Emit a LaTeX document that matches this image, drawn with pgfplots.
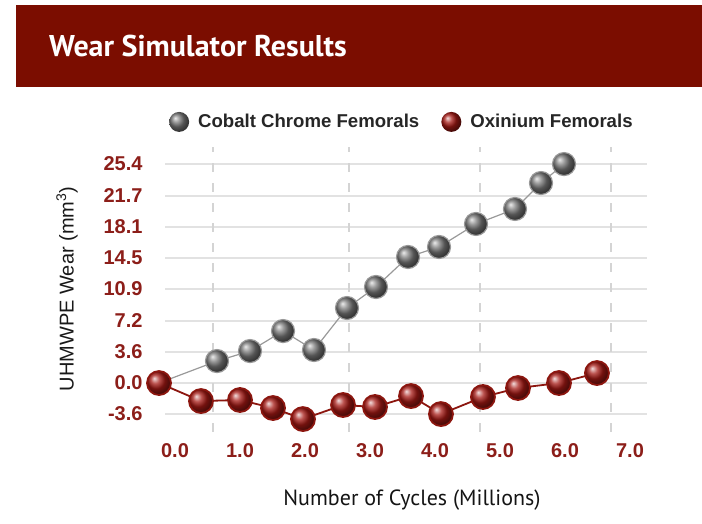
\documentclass[border=0pt]{standalone}
\usepackage{pgfplots}
\pgfplotsset{compat=1.18}
\usepackage{fontspec}
\setmainfont{Liberation Sans}
\newfontfamily\ptsans{PT Sans}
\definecolor{barred}{RGB}{123,13,0}
\definecolor{tickred}{RGB}{140,30,25}
\definecolor{linered}{RGB}{140,22,15}
\definecolor{ballred}{RGB}{165,25,20}
\definecolor{ballgray}{RGB}{120,120,120}
\definecolor{gridgray}{RGB}{226,226,226}
\definecolor{dashgray}{RGB}{212,212,212}
\begin{document}
\begin{tikzpicture}[x=1pt,y=1pt]
\path[use as bounding box] (0,0) rectangle (702,524);
\fill[barred] (16,437) rectangle (702,519);
\node[anchor=base west, inner sep=0pt, text=white] at (49,467) {\ptsans\bfseries\fontsize{30}{36}\selectfont Wear Simulator Results};
\begin{axis}[
  at={(165pt,92pt)}, anchor=south west,
  scale only axis, width=482pt, height=285pt,
  xmin=-0.154, xmax=7.262, ymin=-5.68, ymax=27.38,
  clip=false,
  axis line style={draw=none},
  tick style={draw=none},
  xtick={0,1,2,3,4,5,6,7},
  xticklabels={0.0,1.0,2.0,3.0,4.0,5.0,6.0,7.0},
  ytick={-3.6,0,3.6,7.2,10.9,14.5,18.1,21.7,25.4},
  yticklabels={-3.6,0.0,3.6,7.2,10.9,14.5,18.1,21.7,25.4},
  ymajorgrids,
  major grid style={draw=gridgray, line width=2pt},
  extra x ticks={0.585,2.677,4.692,6.708},
  extra x tick labels={},
  extra x tick style={grid=major, major grid style={draw=dashgray, line width=1.2pt, dash pattern=on 9pt off 11pt}},
  ticklabel style={font=\bfseries\fontsize{20}{24}\selectfont, text=tickred},
  xticklabel style={yshift=-8pt},
  yticklabel style={xshift=-19pt},
  xlabel={Number of Cycles (Millions)},
  ylabel={UHMWPE Wear (mm\textsuperscript{3})},
  xlabel style={at={(axis description cs:0.5124,-0.2386)}, anchor=center, font=\ptsans\fontsize{22}{26}\selectfont, text=black!92},
  ylabel style={at={(axis description cs:-0.2033,0.502)}, anchor=center, font=\fontsize{20}{24}\selectfont, text=black!90},
  legend columns=2,
  legend style={at={(0.002,1.088)}, anchor=west, draw=none, fill=none,
    font=\bfseries\fontsize{18.6}{22}\selectfont, text=black!85,
    /tikz/every even column/.append style={column sep=20pt}},
]
\addplot[draw=black!40, line width=1.2pt, mark=ball, mark size=11.5pt, mark options={ball color=ballgray},
  legend image code/.code={\path[draw=none] (0pt,0pt) -- (27pt,0pt); \shade[ball color=ballgray, draw=none] (10pt,0pt) circle (10pt);}]
  coordinates {(-0.246,0) (0.646,2.55) (1.154,3.71) (1.662,6.03) (2.138,3.83) (2.646,8.70) (3.092,11.14) (3.585,14.62) (4.062,15.78) (4.631,18.45) (5.231,20.19) (5.631,23.2) (5.985,25.4)};
\addlegendentry{Cobalt Chrome Femorals}
\addplot[draw=linered, line width=1.8pt, mark=ball, mark size=12pt, mark options={ball color=ballred},
  legend image code/.code={\path[draw=none] (0pt,0pt) -- (27pt,0pt); \shade[ball color=ballred, draw=none] (10pt,0pt) circle (10pt);}]
  coordinates {(-0.246,0) (0.4,-2.09) (1.0,-1.97) (1.508,-2.90) (1.969,-4.18) (2.585,-2.55) (3.077,-2.78) (3.631,-1.51) (4.092,-3.60) (4.738,-1.62) (5.277,-0.58) (5.908,0.0) (6.492,1.16)};
\addlegendentry{Oxinium Femorals}
\end{axis}
\end{tikzpicture}
\end{document}
